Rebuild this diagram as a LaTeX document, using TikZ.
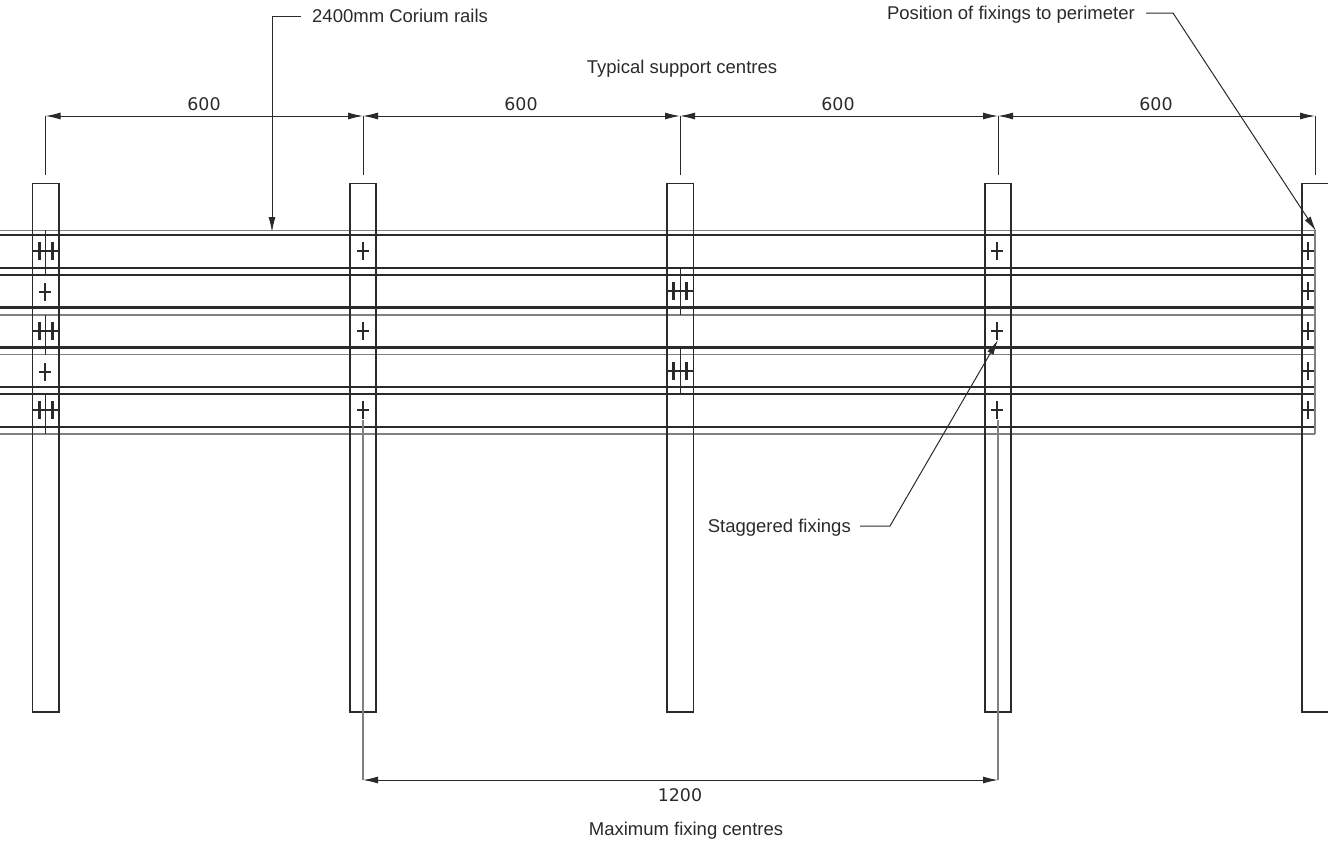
\documentclass[tikz,border=0pt]{standalone}
\usepackage{fontspec}
\setmainfont{Liberation Sans}
\newfontfamily\dimfont{DejaVu Sans}
\usetikzlibrary{arrows.meta}
\definecolor{ink}{HTML}{2A2A2A}
\definecolor{soft}{HTML}{808080}
\tikzset{
  x=1pt,y=-1pt,
  post/.style={draw=ink,line width=1.5pt},
  railthick/.style={draw=ink,line width=2.2pt},
  railthin/.style={draw=ink,line width=1.2pt},
  railsoft/.style={draw=soft,line width=1.4pt},
  centre/.style={draw=ink,line width=1pt},
  softline/.style={draw=soft,line width=1.4pt},
  fixing/.style={draw=ink,line width=1.5pt},
  fixtick/.style={draw=ink,line width=2.6pt},
  dimline/.style={draw=ink,line width=1pt},
  dimend/.style={{Latex[length=15pt,width=7pt]}-{Latex[length=15pt,width=7pt]}},
  leader/.style={draw=ink,line width=1pt,-{Latex[length=15pt,width=7pt]}},
  label/.style={font=\fontsize{18.5}{20}\selectfont,text=ink,inner sep=0pt,anchor=base},
  dimlabel/.style={font=\dimfont\fontsize{17.4}{20}\selectfont,text=ink,inner sep=0pt,anchor=base},
}
\newcommand{\plusmark}[2]{\draw[fixing] (#1-6,#2)--(#1+6,#2) (#1,#2-9)--(#1,#2+9);}
\newcommand{\dblplus}[3]{\draw[fixing] (#1,#3)--(#2,#3);\draw[fixtick] (#1+6.2,#3-9)--(#1+6.2,#3+9) (#1+19.5,#3-9)--(#1+19.5,#3+9);}
\begin{document}
\begin{tikzpicture}
\useasboundingbox (0,0) rectangle (1328,841);
\clip (0,0) rectangle (1328,841);
% rails
\draw[railsoft] (0,230.5)--(1315,230.5);
\draw[railthin] (0,235)--(1315,235);
\foreach \y in {268,307.5,347.5,387,427}{\draw[railthick] (0,\y)--(1315,\y);}
\draw[railthin] (0,275)--(1315,275);
\draw[railsoft] (0,315)--(1315,315);
\draw[railsoft] (0,354.5)--(1315,354.5);
\draw[railthin] (0,394)--(1315,394);
\draw[railsoft] (0,434)--(1315,434);
% posts
\draw[post] (32.5,183.5) rectangle (59,712);
\draw[post] (350,183.5) rectangle (376,712);
\draw[post] (667,183.5) rectangle (693.5,712);
\draw[post] (985,183.5) rectangle (1011,712);
\draw[post] (1302,183.5) rectangle (1332,712);
% centre lines
\draw[centre] (45.5,230)--(45.5,275) (45.5,315)--(45.5,355) (45.5,394)--(45.5,434);
\draw[centre] (680,268)--(680,315) (680,348)--(680,394);
\draw[softline] (1315,230)--(1315,434);
% fixings
\dblplus{33}{58}{251}\dblplus{33}{58}{331}\dblplus{33}{58}{410}
\plusmark{45}{292}\plusmark{45}{372}
\foreach \y in {251,331,410}{\plusmark{363}{\y}\plusmark{997}{\y}}
\dblplus{667}{693}{291}\dblplus{667}{693}{371}
\foreach \y in {251,291,331,371,410}{\draw[fixing] (1303,\y)--(1314,\y) (1308,\y-9)--(1308,\y+9);}
% dimension points
\coordinate (d0) at (45.5,116);
\coordinate (d1) at (363,116);
\coordinate (d2) at (680,116);
\coordinate (d3) at (998,116);
\coordinate (d4) at (1315,116);
\coordinate (e0) at (45.5,175);
\coordinate (e1) at (363,175);
\coordinate (e2) at (680,175);
\coordinate (e3) at (998,175);
\coordinate (e4) at (1315,175);
\foreach \i in {0,...,4}{\draw[dimline] (d\i)--(e\i);}
\draw[dimline,dimend] (d0)--(d1);
\draw[dimline,dimend] (d1)--(d2);
\draw[dimline,dimend] (d2)--(d3);
\draw[dimline,dimend] (d3)--(d4);
\coordinate (b1) at (363,780);
\coordinate (b3) at (998,780);
\coordinate (s1) at (363,420);
\coordinate (s3) at (998,420);
\draw[softline] (s1)--(b1);
\draw[softline] (s3)--(b3);
\draw[dimline,dimend] (b1)--(b3);
% dimension labels
\node[dimlabel] (n600a) at (204,110.5) {600};
\node[dimlabel] (n600b) at (521,110.5) {600};
\node[dimlabel] (n600c) at (838,110.5) {600};
\node[dimlabel] (n600d) at (1156,110.5) {600};
\node[dimlabel] (n1200) at (680,801) {1200};
% captions
\node[label] (typical) at (682,73) {Typical support centres};
\node[label] (maxfix) at (686,835) {Maximum fixing centres};
\node[label,anchor=base west] (rails) at (312,22) {2400mm Corium rails};
\node[label,anchor=base east] (perim) at (1135,19) {Position of fixings to perimeter};
\node[label,anchor=base east] (stag) at (851,532) {Staggered fixings};
% leaders
\coordinate (tipA) at (272,232);
\coordinate (tipB) at (1316,231);
\coordinate (tipC) at (998,340);
\draw[leader] (301,16) -- (272,16) -- (tipA);
\draw[leader] (1146,13) -- (1173,13) -- (tipB);
\draw[leader] (860,526) -- (890,526) -- (tipC);
\end{tikzpicture}
\end{document}
